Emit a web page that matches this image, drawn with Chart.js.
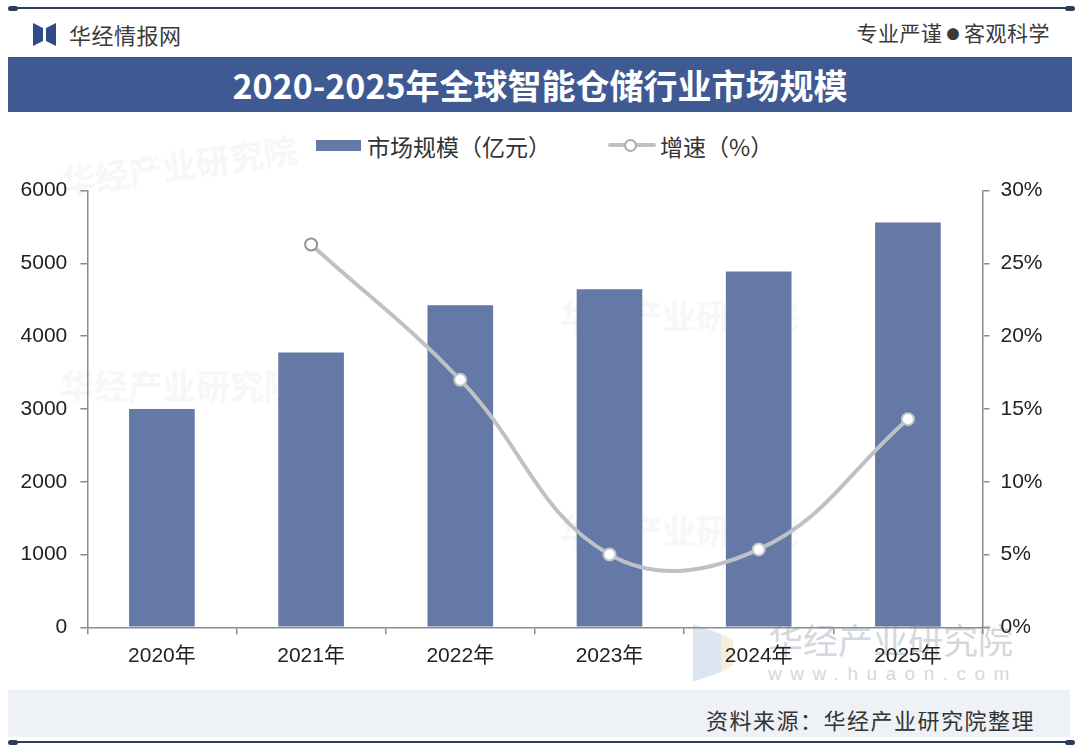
<!DOCTYPE html>
<html>
<head>
<meta charset="utf-8">
<script src="https://cdn.jsdelivr.net/npm/chart.js@4.4.1/dist/chart.umd.min.js"></script>
<style>
  html,body{margin:0;padding:0;background:#fff;}
  body{width:1080px;height:748px;position:relative;overflow:hidden;font-family:'Noto Sans CJK SC','Liberation Sans',sans-serif;}
  .abs{position:absolute;}
  .rule{position:absolute;left:10px;width:1062px;height:2px;background:#2E3D5C;}
  .cap{position:absolute;width:10px;height:5px;border-radius:3px;background:#2E3D5C;}
  #brand{left:69px;top:19px;font-size:22px;color:#3a3a3a;line-height:30px;letter-spacing:0.5px;}
  #motto{right:30px;top:17px;font-size:21px;color:#3a3a3a;line-height:30px;letter-spacing:0.5px;}
  #band{left:8px;top:57px;width:1064px;height:55px;background:#3F5A93;color:#fff;font-size:34px;font-weight:700;text-align:center;line-height:55px;}
  #foot{left:8px;top:690px;width:1062px;height:47px;background:#EEF1F6;}
  #src{right:45px;top:704px;font-size:22px;color:#333;line-height:30px;letter-spacing:1.5px;}
  .leg{top:131px;font-size:23px;color:#333;line-height:30px;}
  .wm{color:#D3D8DE;}
  .wmf{color:#F6F7F9;font-size:34px;font-weight:700;}
  canvas{position:absolute;left:0;top:165px;}
</style>
</head>
<body>
<!-- faint background watermarks -->
<div class="abs wmf" style="left:60px;top:140px;transform:rotate(-8deg);">华经产业研究院</div>
<div class="abs wmf" style="left:60px;top:360px;">华经产业研究院</div>
<div class="abs wmf" style="left:560px;top:290px;">华经产业研究院</div>
<div class="abs wmf" style="left:560px;top:505px;">华经产业研究院</div>

<div class="rule" style="top:7px;"></div>
<div class="cap" style="left:8px;top:5.5px;"></div>
<div class="cap" style="left:1065px;top:5.5px;"></div>

<svg class="abs" style="left:32px;top:23px;" width="26" height="23" viewBox="0 0 26 23">
  <polygon points="1,0 11,5 11,18 1,23" fill="#2F4C8A"/>
  <polygon points="14,5 24,0 24,23 14,18" fill="#2F4C8A"/>
</svg>
<div id="brand" class="abs">华经情报网</div>
<div id="motto" class="abs">专业严谨<span style="font-size:13px;vertical-align:2px;margin:0 4px;">●</span>客观科学</div>

<div id="band" class="abs">2020-2025年全球智能仓储行业市场规模</div>

<!-- legend -->
<div class="abs" style="left:316px;top:140px;width:45px;height:11px;background:#6479A5;"></div>
<div class="abs leg" style="left:367px;">市场规模（亿元）</div>
<div class="abs" style="left:608px;top:143px;width:48px;height:4px;background:#BEC2C7;border-radius:2px;"></div>
<div class="abs" style="left:624px;top:139px;width:9px;height:9px;border-radius:50%;background:#fff;border:2px solid #A8ADB3;"></div>
<div class="abs leg" style="left:660px;">增速（%）</div>

<!-- bottom-right watermark -->
<svg class="abs" style="left:693px;top:624px;" width="56" height="58" viewBox="0 0 56 58">
  <polygon points="0,0 28,10 28,48 0,58" fill="#DCE6F3"/>
  <polygon points="28,10 40,16 40,42 28,48" fill="#F5EED8"/>
</svg>
<div class="abs wm" style="left:768px;top:614px;font-size:35px;line-height:50px;">华经产业研究院</div>
<div class="abs wm" style="left:768px;top:662px;font-size:19px;line-height:24px;letter-spacing:8.5px;font-family:'Liberation Sans',sans-serif;">www.huaon.com</div>

<div id="foot" class="abs"></div>
<div id="src" class="abs">资料来源：华经产业研究院整理</div>
<div class="rule" style="top:741px;"></div>
<div class="cap" style="left:8px;top:739.5px;"></div>
<div class="cap" style="left:1065px;top:739.5px;"></div>

<canvas id="c" width="1080" height="525"></canvas>

<script>
const categories = ['2020年', '2021年', '2022年', '2023年', '2024年', '2025年'];
const marketSize = [3000, 3775, 4425, 4645, 4890, 5560];
const growthRate = [null, 26.3, 17.0, 5.0, 5.35, 14.3];
const leftTicks = [0, 1000, 2000, 3000, 4000, 5000, 6000];
const rightTicks = [0, 5, 10, 15, 20, 25, 30];

Chart.defaults.font.family = "'Liberation Sans','Noto Sans CJK SC',sans-serif";
Chart.defaults.color = '#222';

const axisColor = '#8C8C8C';

new Chart(document.getElementById('c'), {
  data: {
    labels: categories,
    datasets: [
      {
        type: 'line',
        label: '增速（%）',
        data: growthRate,
        yAxisID: 'y1',
        order: 0,
        borderColor: '#BEC2C7',
        borderWidth: 4,
        tension: 0.4,
        spanGaps: true,
        pointRadius: 6,
        pointHoverRadius: 6,
        pointBackgroundColor: '#ffffff',
        pointBorderColor: ['#A8ADB3', '#8E9398', '#C2C6CB', '#C2C6CB', '#C2C6CB', '#C2C6CB'],
        pointBorderWidth: 2
      },
      {
        type: 'bar',
        label: '市场规模（亿元）',
        data: marketSize,
        yAxisID: 'y',
        order: 1,
        backgroundColor: '#6479A5',
        barPercentage: 0.44,
        categoryPercentage: 1.0
      }
    ]
  },
  options: {
    responsive: false,
    animation: false,
    layout: { padding: { top: 15, left: 0, right: 0, bottom: 0 } },
    plugins: { legend: { display: false }, tooltip: { enabled: false } },
    scales: {
      x: {
        offset: true,
        grid: { display: true, drawOnChartArea: false, offset: true, tickLength: 7, color: axisColor, lineWidth: 1.5 },
        border: { color: axisColor, width: 1.5 },
        ticks: { font: { size: 21 }, color: '#222', padding: 9 },
        afterFit: s => { s.height = 62.7; }
      },
      y: {
        position: 'left',
        min: 0, max: 6000,
        afterBuildTicks: s => { s.ticks = leftTicks.map(v => ({ value: v })); },
        grid: { display: true, drawOnChartArea: false, tickLength: 7, color: axisColor, lineWidth: 1.5 },
        border: { color: axisColor, width: 1.5 },
        ticks: { font: { size: 21 }, color: '#222', padding: 13, callback: v => String(v) },
        afterFit: s => { s.width = 87.3; }
      },
      y1: {
        position: 'right',
        min: 0, max: 30,
        afterBuildTicks: s => { s.ticks = rightTicks.map(v => ({ value: v })); },
        grid: { display: true, drawOnChartArea: false, tickLength: 7, color: axisColor, lineWidth: 1.5 },
        border: { color: axisColor, width: 1.5 },
        ticks: { font: { size: 21 }, color: '#222', padding: 11, callback: v => v + '%' },
        afterFit: s => { s.width = 97.5; }
      }
    }
  }
});
</script>
</body>
</html>
